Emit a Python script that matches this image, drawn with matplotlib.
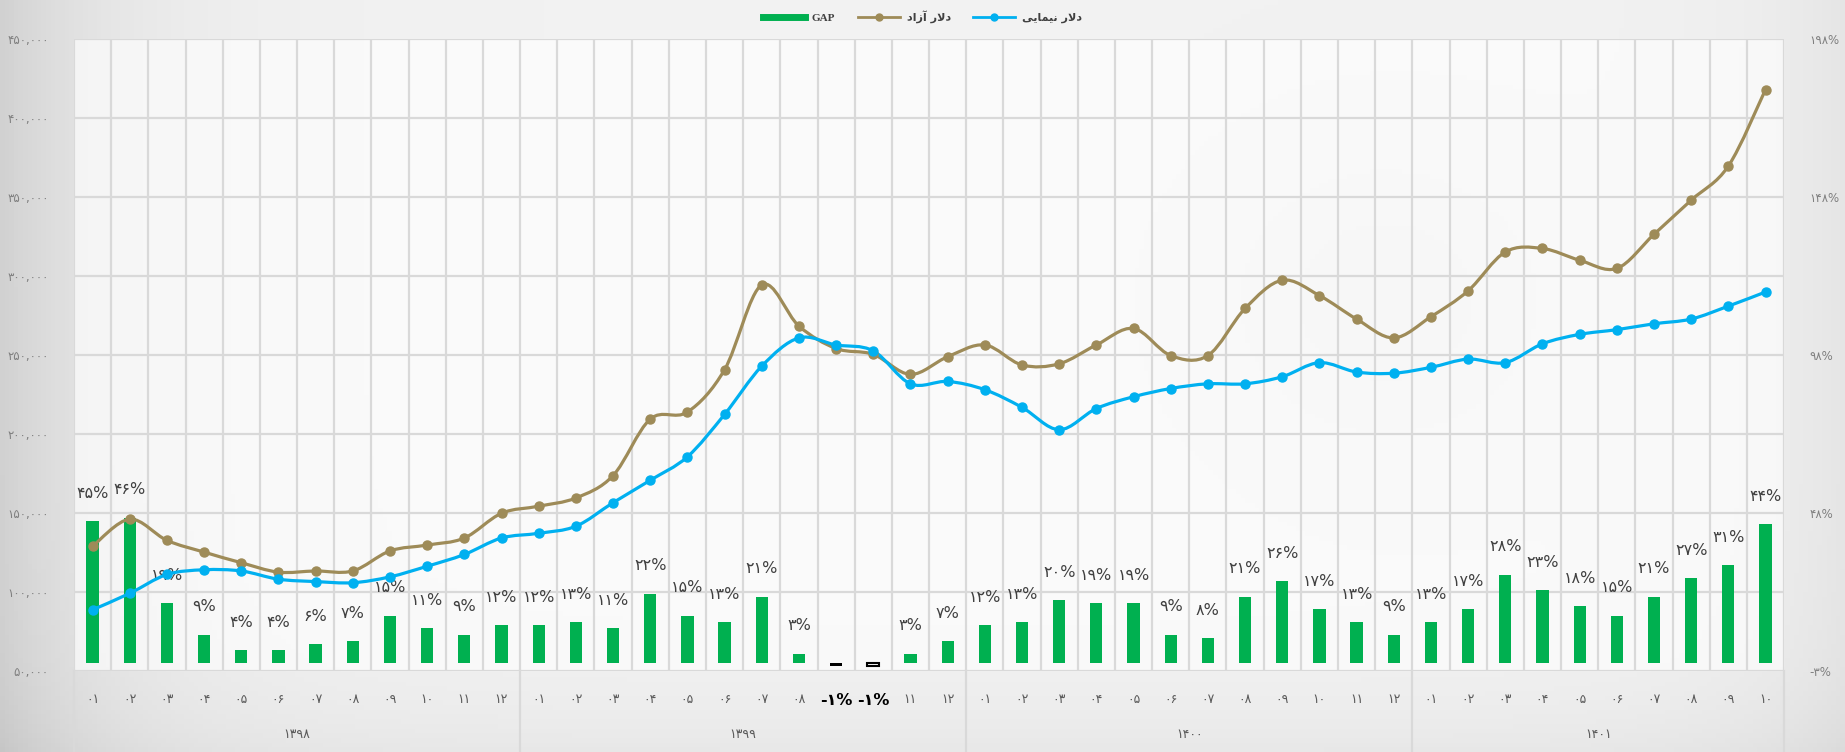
import numpy as np
import matplotlib
matplotlib.use('Agg')
from matplotlib import pyplot as plt
from matplotlib.path import Path
from matplotlib.patches import PathPatch
from matplotlib.lines import Line2D
import matplotlib.transforms as mtransforms

# ماه ها و سال ها
years = ['1398', '1399', '1400', '1401']
year_months = [12, 12, 12, 10]
months = ['01', '02', '03', '04', '05', '06', '07', '08', '09', '10', '11', '12'] * 3 + \
         ['01', '02', '03', '04', '05', '06', '07', '08', '09', '10']

# دلار آزاد
free_usd = [128960, 146090, 132680, 125240, 118530, 112570, 113320, 113320, 125980, 129700, 134170, 149820,
            154290, 159500, 173650, 209410, 213880, 240690, 294330, 268260, 254100, 250380, 237720, 248890,
            256340, 243670, 244420, 256340, 266770, 249630, 249630, 279430, 297310, 287620, 272730, 260810,
            274220, 290600, 315180, 317420, 309970, 304760, 326360, 347960, 369560, 417980]
# دلار نیمایی
nima_usd = [88740, 99160, 111080, 114060, 113320, 108100, 106610, 105870, 109590, 116300, 123750, 134170,
            137150, 141620, 156520, 170700, 185570, 212390, 242930, 260810, 256340, 252610, 231760, 233250,
            228030, 216860, 202710, 216110, 223560, 228780, 231760, 231760, 236230, 245160, 239210, 238460,
            242180, 247400, 245160, 257080, 263040, 266020, 269750, 272730, 280920, 289860]
# GAP (%)
gap_pct = [45, 46, 19, 9, 4, 4, 6, 7, 15, 11, 9, 12,
           12, 13, 11, 22, 15, 13, 21, 3, -1, -1, 3, 7,
           12, 13, 20, 19, 19, 9, 8, 21, 26, 17, 13, 9,
           13, 17, 28, 23, 18, 15, 21, 27, 31, 44]

left_ticks = [50000, 100000, 150000, 200000, 250000, 300000, 350000, 400000, 450000]
right_ticks = [-0.025, 0.475, 0.975, 1.475, 1.975]
right_labels = ['-3%', '48%', '98%', '148%', '198%']

FA = str.maketrans('0123456789', '۰۱۲۳۴۵۶۷۸۹')
def fa(s):
    return str(s).translate(FA)

GREEN = '#00B050'
BROWN = '#9E8B58'
BLUE = '#00B0F0'
GRID = '#D9D9D9'
FONT = ['DejaVu Sans']

plt.rcParams['font.family'] = FONT

fig = plt.figure(figsize=(18.45, 7.52), dpi=100)

# پس زمینه خاکستری
bg = fig.add_axes([0, 0, 1, 1], zorder=-10)
gx = np.linspace(0, 1, 400)
gy = np.linspace(0, 1, 160)
X, Y = np.meshgrid(gx, gy)
shade = 0.95 - 0.13 * np.exp(-X / 0.06) - 0.05 * np.exp(-(1 - X) / 0.05) \
        - 0.04 * np.exp(-Y / 0.08) - 0.03 * np.exp(-((X - 0.75) ** 2) / 0.01 - ((Y - 0.6) ** 2) / 0.05)
bg.imshow(np.dstack([shade] * 3), aspect='auto', extent=[0, 1, 0, 1], origin='lower')
bg.axis('off')

n = len(months)
x = np.arange(n)

ax = fig.add_axes([0.0401, 0.1077, 0.9269, 0.8405])
ax.set_facecolor((1, 1, 1, 0.65))
ax.set_xlim(-0.5, n - 0.5)
ax.set_ylim(-0.025, 1.975)

# خطوط شبکه
for yv in np.arange(-0.025, 1.976, 0.25):
    ax.axhline(yv, color=GRID, lw=1.6, zorder=0)
for xv in np.arange(-0.5, n, 1.0):
    ax.axvline(xv, color=GRID, lw=1.6, zorder=0)

# ستون های GAP
gap = np.array(gap_pct) / 100.0
colors = [GREEN if g >= 0 else 'black' for g in gap]
bars = ax.bar(x, gap, width=0.33, color=colors, zorder=2)
neg = [i for i, g in enumerate(gap) if g < 0]
if len(neg) > 1:
    bars[neg[1]].set_facecolor('white')
    bars[neg[1]].set_edgecolor('black')
    bars[neg[1]].set_linewidth(1.5)
for i, g in enumerate(gap):
    if g < 0:
        # برچسب منفی زیر ستون
        ax.annotate(fa(gap_pct[i]) + '%', (x[i], g), xytext=(0, -25), textcoords='offset points',
                    ha='center', va='center', fontsize=11.5, color='black', fontweight='bold',
                    annotation_clip=False, zorder=5)
        continue
    ax.annotate(fa(gap_pct[i]) + '%', (x[i], g), xytext=(0, 20), textcoords='offset points',
                ha='center', va='center', fontsize=11.5, color='#404040', zorder=3)

ax.set_xticks(x)
ax.set_xticklabels([fa(m) if gap_pct[i] >= 0 else '' for i, m in enumerate(months)],
                   fontsize=9, color='#595959')
ax.tick_params(axis='x', length=0, pad=16)
for s in ax.spines.values():
    s.set_visible(False)

# جداکننده سال ها
trans = mtransforms.blended_transform_factory(ax.transData, ax.transAxes)
bounds = [-0.5]
for m in year_months:
    bounds.append(bounds[-1] + m)
for b in bounds:
    ax.plot([b, b], [0, -0.13], color=GRID, lw=1.6, transform=trans, clip_on=False)
for k, yr in enumerate(years):
    c = (bounds[k] + bounds[k + 1]) / 2
    ax.text(c, -0.1, fa(yr), transform=trans, ha='center', va='center', fontsize=9, color='#595959')

# خطوط دلار
ax2 = ax.twinx()
ax2.set_ylim(50000, 450000)
ax2.yaxis.tick_left()
ax2.set_yticks(left_ticks)
ax2.set_yticklabels([fa('{:,}'.format(v)) for v in left_ticks], fontsize=8.5, color='#7F7F7F')
ax2.tick_params(axis='y', length=0, pad=18)
for s in ax2.spines.values():
    s.set_visible(False)

# محور درصد سمت راست (بعد از twinx)
ax.yaxis.tick_right()
ax.set_yticks(right_ticks)
ax.set_yticklabels([fa(s) for s in right_labels], fontsize=8.5, color='#7F7F7F')
ax.tick_params(axis='y', length=0, pad=18)


def smooth_path(xs, ys):
    # catmull-rom به صورت منحنی بزیه
    pts = np.column_stack([xs, ys]).astype(float)
    verts = [pts[0]]
    codes = [Path.MOVETO]
    for i in range(len(pts) - 1):
        p0 = pts[i - 1] if i > 0 else pts[i]
        p1 = pts[i]
        p2 = pts[i + 1]
        p3 = pts[i + 2] if i + 2 < len(pts) else pts[i + 1]
        verts += [p1 + (p2 - p0) / 6.0, p2 - (p3 - p1) / 6.0, p2]
        codes += [Path.CURVE4] * 3
    return Path(verts, codes)


for series, col in [(free_usd, BROWN), (nima_usd, BLUE)]:
    ax2.add_patch(PathPatch(smooth_path(x, series), fill=False, edgecolor=col, lw=2.3,
                            capstyle='round', joinstyle='round'))
    ax2.plot(x, series, 'o', color=col, ms=6.5, ls='none')

# راهنما
handles = [Line2D([], [], color=GREEN, lw=5),
           Line2D([], [], color=BROWN, lw=2, marker='o', ms=5),
           Line2D([], [], color=BLUE, lw=2, marker='o', ms=5)]
labels = ['GAP', 'ﺩﺍﺯﺁ ﺭﻻﺩ', 'ﯽﯾﺎﻤﯿﻧ ﺭﻻﺩ']
leg = fig.legend(handles, labels, loc='center', bbox_to_anchor=(0.5, 0.978), ncol=3, frameon=False,
                 handlelength=3.8, columnspacing=2.0, handletextpad=0.6, fontsize=8)
leg.get_texts()[0].set_family(['Liberation Serif'])
for t in leg.get_texts():
    t.set_fontweight('bold')
    t.set_color('#404040')

plt.savefig('out.png', dpi=100)
